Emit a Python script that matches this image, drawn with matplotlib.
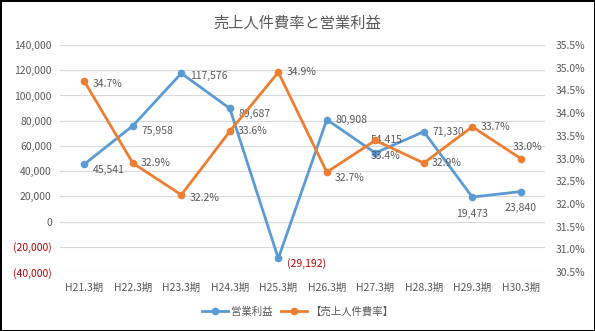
import matplotlib.pyplot as plt
from matplotlib.ticker import FuncFormatter

plt.rcParams['font.family'] = ['Noto Sans CJK JP', 'DejaVu Sans']

periods = ["H21.3期", "H22.3期", "H23.3期", "H24.3期", "H25.3期",
           "H26.3期", "H27.3期", "H28.3期", "H29.3期", "H30.3期"]
profit = [45541, 75958, 117576, 89687, -29192, 80908, 54415, 71330, 19473, 23840]
labor_ratio = [34.7, 32.9, 32.2, 33.6, 34.9, 32.7, 33.4, 32.9, 33.7, 33.0]

BLUE = "#5B9BD5"
ORANGE = "#ED7D31"
GRAY = "#595959"
RED = "#C00000"

fig = plt.figure(figsize=(5.95, 3.31), dpi=100)
fig.patch.set_edgecolor("black")
fig.patch.set_linewidth(2)

ax = fig.add_axes([0.101, 0.178, 0.815, 0.686])
ax2 = ax.twinx()

x = list(range(len(periods)))

ax.set_ylim(-40000, 140000)
ax.set_yticks(range(-40000, 140001, 20000))
ax.yaxis.set_major_formatter(FuncFormatter(
    lambda v, p: f"({abs(int(v)):,})" if v < 0 else f"{int(v):,}"))
ax.grid(axis="y", color="#D9D9D9", linewidth=0.8)
ax.set_axisbelow(True)
ax.set_xlim(-0.5, len(periods) - 0.5)
ax.set_xticks(x)
ax.set_xticklabels(periods)

for a in (ax, ax2):
    for s in a.spines.values():
        s.set_visible(False)
    a.tick_params(length=0, labelsize=7.5, colors=GRAY)
ax.tick_params(axis="x", pad=8)
ax.tick_params(axis="y", pad=6)
for t, v in zip(ax.get_yticklabels(), ax.get_yticks()):
    if v < 0:
        t.set_color(RED)

ax2.set_ylim(30.5, 35.5)
ax2.set_yticks([30.5 + 0.5 * i for i in range(11)])
ax2.yaxis.set_major_formatter(FuncFormatter(lambda v, p: f"{v:.1f}%"))
ax2.tick_params(axis="y", pad=8)

l1, = ax.plot(x, profit, color=BLUE, linewidth=2.0, marker="o", markersize=4.5,
              label="営業利益", zorder=3)
l2, = ax2.plot(x, labor_ratio, color=ORANGE, linewidth=2.0, marker="o", markersize=4.5,
               label="【売上人件費率】", zorder=3)

# data labels for profit
profit_offsets = [(6, -4), (6, -4), (6, -2), (6, -4), (6, -4),
                  (6, 0), (-3, 9), (6, 0), (-12, -12), (-12, -12)]
for i, (v, off) in enumerate(zip(profit, profit_offsets)):
    txt = f"({abs(v):,})" if v < 0 else f"{v:,}"
    ax.annotate(txt, (i, v), xytext=off, textcoords="offset points",
                fontsize=7.5, color=RED if v < 0 else GRAY, va="center")

# data labels for ratio
ratio_offsets = [(6, -2), (6, 0), (6, -2), (6, 0), (6, 0),
                 (6, -4), (-3, -11), (6, 0), (6, 0), (-6, 8)]
for i, (v, off) in enumerate(zip(labor_ratio, ratio_offsets)):
    ax2.annotate(f"{v:.1f}%", (i, v), xytext=off, textcoords="offset points",
                 fontsize=7.5, color=GRAY, va="center")

fig.suptitle("売上人件費率と営業利益", x=0.5, y=0.955, fontsize=11, color=GRAY)
fig.legend(handles=[l1, l2], loc="center", bbox_to_anchor=(0.5, 0.058), ncol=2,
           frameon=False, fontsize=7.5, labelcolor=GRAY, handlelength=2.5,
           columnspacing=0.8, handletextpad=0.3)

fig.savefig("out.png", dpi=100, edgecolor=fig.get_edgecolor())
